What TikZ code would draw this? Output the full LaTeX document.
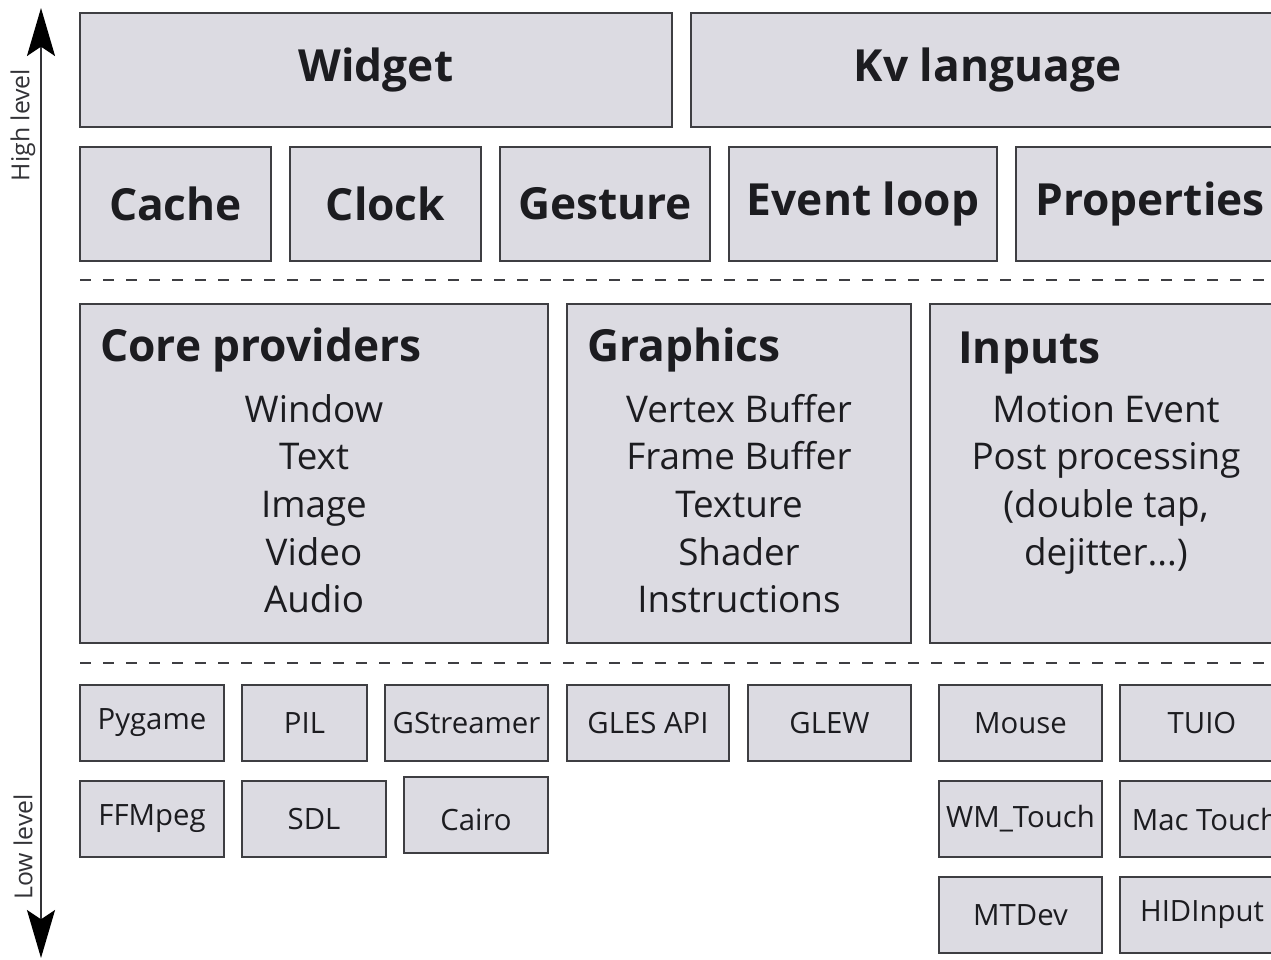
\documentclass[tikz,border=0pt]{standalone}
\usepackage{fontspec}
\setmainfont{Open Sans}
\usetikzlibrary{arrows.meta}
\definecolor{boxfill}{RGB}{220,219,226}
\definecolor{boxline}{RGB}{62,62,66}
\definecolor{ink}{RGB}{28,28,32}
\definecolor{sideink}{RGB}{50,50,54}
\newcommand\fbold{\fontsize{33.2}{40}\selectfont\bfseries}
\newcommand\fbody{\fontsize{27.6}{36}\selectfont}
\newcommand\fsmall{\fontsize{22}{28}\selectfont}
\newcommand\fside{\fontsize{18.6}{22}\selectfont}
% name, x1, y1, x2, y2, font, text
\newcommand\mkbox[7]{%
  \node[archbox, font=#6, minimum width={(#4-#2)*0.75pt}, minimum height={(#5-#3)*0.75pt}]
    (#1) at ({(#2+#4)/2},{(#3+#5)/2}) {#7};}
\tikzset{
  archbox/.style={draw=boxline, fill=boxfill, line width=1.7pt, inner sep=0pt, text=ink},
  layersep/.style={draw=boxline, line width=2pt, dash pattern=on 8.25pt off 9pt},
  levelarrow/.style={draw=sideink, line width=1.6pt,
    {Stealth[length=36pt,width=21pt,inset=7pt,color=black,fill=black]}-{Stealth[length=36pt,width=21pt,inset=7pt,color=black,fill=black]}},
  sidelabel/.style={font=\fside, text=sideink, rotate=90, inner sep=0pt},
  headtxt/.style={font=\fbold, text=ink, inner sep=0pt, anchor=base west},
  bodytxt/.style={font=\fbody, text=ink, inner sep=0pt, anchor=base}
}
\begin{document}
\begin{tikzpicture}[x=0.75pt, y=-0.75pt]
\useasboundingbox (0,0) rectangle (1271,960);
\clip (0,0) rectangle (1271,960);
\fill[white] (0,0) rectangle (1271,960);

% level arrow
\coordinate (hightip) at (41,8);
\coordinate (lowtip) at (41,958);
\draw[levelarrow] (lowtip) -- (hightip);
\node[sidelabel] (highlbl) at (23,125) {High level};
\node[sidelabel] (lowlbl) at (23,847) {Low level};

% top rows
\mkbox{widget}{80}{13}{672}{127}{\fbold}{Widget}
\mkbox{kv}{691}{13}{1284}{127}{\fbold}{Kv language}
\mkbox{cache}{80}{147}{271}{261}{\fbold}{Cache}
\mkbox{clock}{290}{147}{481}{261}{\fbold}{Clock}
\mkbox{gesture}{500}{147}{710}{261}{\fbold}{Gesture}
\mkbox{eventloop}{729}{147}{997}{261}{\fbold}{Event loop}
\mkbox{properties}{1016}{147}{1284}{261}{\fbold}{Properties}

% separators
\coordinate (sepA1) at (80,280);
\coordinate (sepA2) at (1290,280);
\draw[layersep] (sepA1) -- (sepA2);
\coordinate (sepB1) at (80,663);
\coordinate (sepB2) at (1290,663);
\draw[layersep] (sepB1) -- (sepB2);

% middle layer
\mkbox{core}{80}{304}{548}{643}{\fbold}{}
\mkbox{graphics}{567}{304}{911}{643}{\fbold}{}
\mkbox{inputs}{930}{304}{1284}{643}{\fbold}{}
\node[headtxt] (coreh) at (100,361) {Core providers};
\node[headtxt] (graphicsh) at (587,361) {Graphics};
\node[headtxt] (inputsh) at (958,363) {Inputs};
\foreach \t [count=\i] in {Window,Text,Image,Video,Audio}
  \node[bodytxt] (corel\i) at (314,{422+47.7*(\i-1)}) {\t};
\foreach \t [count=\i] in {Vertex Buffer,Frame Buffer,Texture,Shader,Instructions}
  \node[bodytxt] (graphl\i) at (739,{422+47.7*(\i-1)}) {\t};
\node[bodytxt] (inpl1) at (1106,422) {Motion Event};
\node[bodytxt] (inpl2) at (1106,469.7) {Post processing};
\node[bodytxt] (inpl3) at (1106,517.4) {(double tap,};
\node[bodytxt] (inpl4) at (1106,565.1) {dejitter...)};

% bottom layer
\mkbox{pygame}{80}{685}{224}{761}{\fsmall}{Pygame}
\mkbox{pil}{242}{685}{367}{761}{\fsmall}{PIL}
\mkbox{gstreamer}{385}{685}{548}{761}{\fsmall}{GStreamer}
\mkbox{gles}{567}{685}{729}{761}{\fsmall}{GLES API}
\mkbox{glew}{748}{685}{911}{761}{\fsmall}{GLEW}
\mkbox{mouse}{939}{685}{1102}{761}{\fsmall}{Mouse}
\mkbox{tuio}{1120}{685}{1284}{761}{\fsmall}{TUIO}
\mkbox{ffmpeg}{80}{781}{224}{857}{\fsmall}{FFMpeg}
\mkbox{sdl}{242}{781}{386}{857}{\fsmall}{SDL}
\mkbox{cairo}{404}{777}{548}{853}{\fsmall}{}
\node[font=\fsmall, text=ink, inner sep=0pt] (cairot) at ([yshift=-3.75pt]cairo.center) {Cairo};
\mkbox{wmtouch}{939}{781}{1102}{857}{\fsmall}{WM\_Touch}
\mkbox{mactouch}{1120}{781}{1290}{857}{\fsmall}{Mac Touch}
\mkbox{mtdev}{939}{877}{1102}{953}{\fsmall}{MTDev}
\mkbox{hidinput}{1120}{877}{1284}{953}{\fsmall}{HIDInput}
\end{tikzpicture}
\end{document}
